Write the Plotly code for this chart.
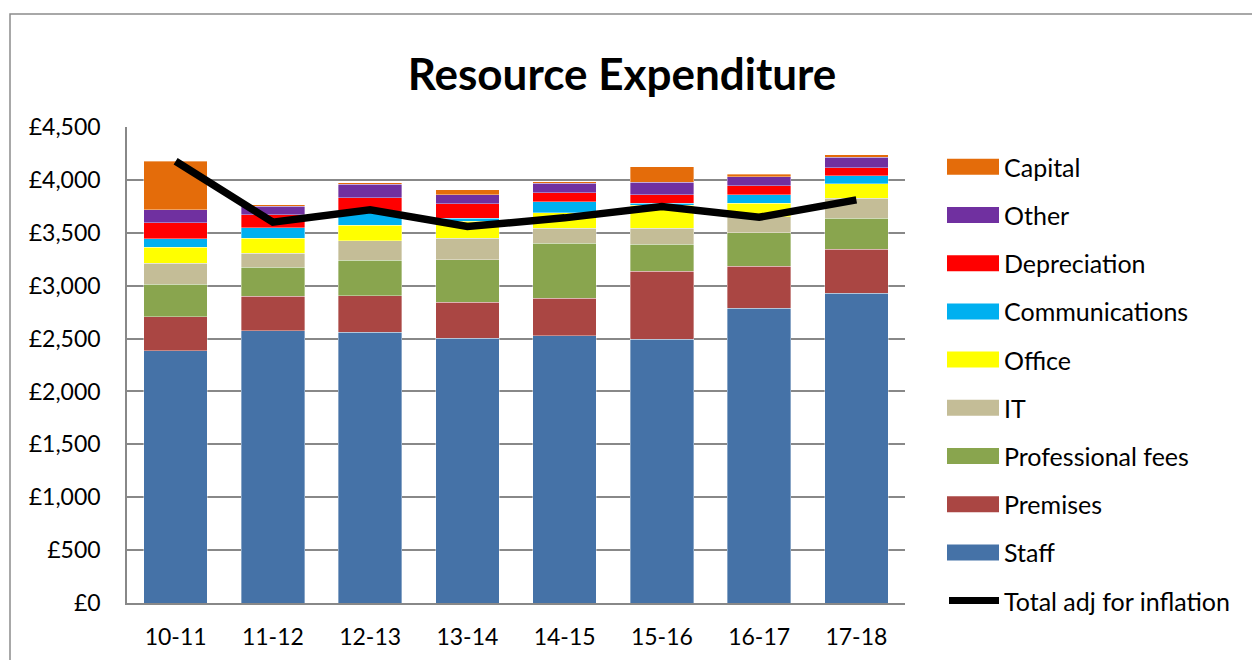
import plotly.graph_objects as go

years = ["10-11", "11-12", "12-13", "13-14", "14-15", "15-16", "16-17", "17-18"]

staff = [2387, 2572, 2562, 2503, 2528, 2493, 2786, 2930]
premises = [317, 330, 344, 339, 352, 645, 399, 415]
professional_fees = [308, 273, 333, 403, 522, 252, 315, 293]
it = [201, 133, 188, 201, 141, 151, 151, 189]
office = [151, 141, 142, 164, 146, 217, 128, 135]
communications = [79, 98, 132, 28, 106, 21, 82, 79]
depreciation = [151, 123, 129, 136, 82, 79, 82, 75]
other = [123, 81, 129, 84, 91, 119, 85, 97]
capital = [459, 16, 13, 51, 16, 148, 25, 26]

total_adj_inflation = [4176, 3600, 3717, 3559, 3641, 3748, 3647, 3811]

y_ticks = [0, 500, 1000, 1500, 2000, 2500, 3000, 3500, 4000, 4500]
y_tick_labels = ["£0", "£500", "£1,000", "£1,500", "£2,000", "£2,500",
                 "£3,000", "£3,500", "£4,000", "£4,500"]

series = [
    ("Staff", staff, "#4572A7"),
    ("Premises", premises, "#AA4643"),
    ("Professional fees", professional_fees, "#89A54E"),
    ("IT", it, "#C4BD97"),
    ("Office", office, "#FFFF00"),
    ("Communications", communications, "#00B0F0"),
    ("Depreciation", depreciation, "#FF0000"),
    ("Other", other, "#7030A0"),
    ("Capital", capital, "#E46C0A"),
]
line_name = "Total adj for inflation"

FONT = "Lato"
W, H = 1252, 660
L, R, T, B = 127, 905, 127, 603


def fx(p):
    return (p - L) / (R - L)


def fy(p):
    return (B - p) / (B - T)


fig = go.Figure()
for name, vals, col in series:
    fig.add_trace(go.Bar(
        x=years, y=vals, name=name, marker_color=col,
        marker_line=dict(width=0.8, color="rgba(255,255,255,0.45)"),
        showlegend=False,
    ))

fig.add_trace(go.Scatter(
    x=years, y=total_adj_inflation, name=line_name, mode="lines",
    line=dict(color="black", width=7.5), showlegend=False,
))

shapes = []
annotations = []
# outer chart border
shapes.append(dict(type="rect", xref="paper", yref="paper",
                   x0=fx(10), x1=fx(1262), y0=fy(680), y1=fy(14),
                   line=dict(color="#8c8c8c", width=1.5), layer="below"))

# manual legend
legend_items = [(n, c) for n, v, c in series][::-1]
row0, step = 166.8, 48.2
for i, (name, col) in enumerate(legend_items):
    cy = row0 + i * step
    shapes.append(dict(type="rect", xref="paper", yref="paper",
                       x0=fx(947), x1=fx(999), y0=fy(cy + 8), y1=fy(cy - 8),
                       fillcolor=col, line=dict(width=0)))
    annotations.append(dict(xref="paper", yref="paper", x=fx(1002), y=fy(cy),
                            xanchor="left", yanchor="middle", showarrow=False,
                            text=name, font=dict(family=FONT, size=25, color="black")))
cy = row0 + len(legend_items) * step
shapes.append(dict(type="line", xref="paper", yref="paper",
                   x0=fx(949), x1=fx(999), y0=fy(cy), y1=fy(cy),
                   line=dict(color="black", width=7)))
annotations.append(dict(xref="paper", yref="paper", x=fx(1002), y=fy(cy),
                        xanchor="left", yanchor="middle", showarrow=False,
                        text=line_name, font=dict(family=FONT, size=25, color="black")))

fig.update_layout(
    width=W, height=H,
    margin=dict(l=L, r=W - R, t=T, b=H - B, pad=0, autoexpand=False),
    paper_bgcolor="white", plot_bgcolor="white",
    barmode="stack", bargap=0.348,
    title=dict(text="<b>Resource Expenditure</b>", x=622 / W, xanchor="center",
               xref="container", yref="container", y=1 - 75 / H, yanchor="middle",
               font=dict(family=FONT, size=44, color="black")),
    font=dict(family=FONT, size=24, color="black"),
    shapes=shapes, annotations=annotations,
    showlegend=False,
)
fig.update_xaxes(type="category", showline=True, linecolor="#888888", linewidth=1.5,
                 showgrid=False, ticks="", ticklabelstandoff=13, automargin=False,
                 tickangle=0,
                 tickfont=dict(family=FONT, size=23, color="black"))
fig.update_yaxes(range=[0, 4500], tickmode="array", tickvals=y_ticks,
                 ticktext=y_tick_labels,
                 showline=True, linecolor="#888888", linewidth=1.5,
                 showgrid=True, gridcolor="#888888", gridwidth=1.5,
                 ticks="", ticklabelstandoff=20, zeroline=False, automargin=False,
                 tickfont=dict(family=FONT, size=23, color="black"))

fig.write_html("out.html", config={"displayModeBar": False},
               post_script="document.body.style.margin='0px';")
